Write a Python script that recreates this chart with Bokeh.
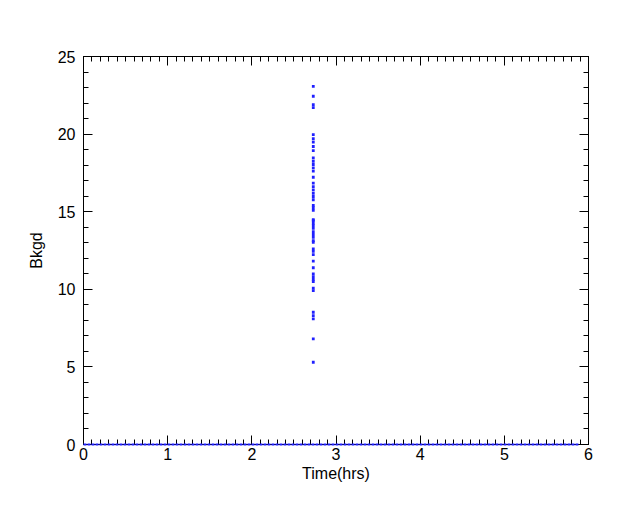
from bokeh.plotting import figure
from bokeh.models import LinearAxis, SingleIntervalTicker, Range1d, CustomJSTickFormatter
from bokeh.embed import file_html
from bokeh.resources import INLINE

# Data
spike_time = 2.73  # hours
spike_bkgd = [23.07, 22.44, 21.89, 21.7, 19.97, 19.7, 19.48, 19.2, 18.94,
              18.47, 18.25, 18.04, 17.83, 17.61, 17.22, 16.84, 16.62, 16.41,
              16.19, 15.98, 15.77, 15.4, 15.25, 15.08, 14.48, 14.43, 14.26,
              14.11, 13.92, 13.72, 13.53, 13.34, 13.14, 13.03, 12.61, 12.44,
              12.24, 11.81, 11.39, 11.0, 10.82, 10.63, 10.5, 10.07, 9.92,
              8.52, 8.31, 8.1, 6.81, 5.3]
zero_times = [0.0, 5.88]   # span of samples with Bkgd = 0
zero_bkgd = [0.0, 0.0]

x_range = (0, 6)
y_range = (0, 25)

FONT = "Liberation Sans"
BLUE = "#2020ff"

p = figure(width=624, height=496, output_backend="svg", toolbar_location=None,
           x_range=Range1d(*x_range), y_range=Range1d(*y_range),
           min_border_left=83, min_border_right=36, min_border_top=56,
           min_border_bottom=52, x_axis_label="Time(hrs)", y_axis_label="Bkgd")
p.xgrid.visible = False
p.ygrid.visible = False
p.outline_line_color = "black"
p.outline_line_width = 1
p.background_fill_color = "white"
p.border_fill_color = "white"

# baseline of zero-valued samples (densely packed points)
p.line(zero_times, zero_bkgd, line_color=BLUE, line_width=2, line_dash="3 1",
       level="overlay")
p.scatter([spike_time] * len(spike_bkgd), spike_bkgd, marker="square", size=2.8,
          fill_color=BLUE, line_color=None)

def style(ax, labels=True):
    ax.axis_line_color = "black"
    ax.major_tick_in = 9
    ax.major_tick_out = 0
    ax.minor_tick_in = 5
    ax.minor_tick_out = 0
    ax.major_tick_line_color = "black"
    ax.minor_tick_line_color = "black"
    ax.major_label_text_font = FONT
    ax.major_label_text_font_size = "16px"
    ax.major_label_text_color = "black"
    ax.axis_label_text_font = FONT
    ax.axis_label_text_font_size = "16px"
    ax.axis_label_text_font_style = "normal"
    ax.axis_label_text_color = "black"
    if not labels:
        ax.formatter = CustomJSTickFormatter(code="return ''")
        ax.major_label_standoff = 0

xt = SingleIntervalTicker(interval=1, num_minor_ticks=10)
yt = SingleIntervalTicker(interval=5, num_minor_ticks=5)

p.xaxis.ticker = xt
p.yaxis.ticker = yt
style(p.xaxis[0])
style(p.yaxis[0])
p.xaxis.major_label_standoff = 3
p.xaxis.axis_label_standoff = 2
p.yaxis.major_label_standoff = 8
p.yaxis.axis_label_standoff = 10

top = LinearAxis(ticker=SingleIntervalTicker(interval=1, num_minor_ticks=10))
right = LinearAxis(ticker=SingleIntervalTicker(interval=5, num_minor_ticks=5))
style(top, labels=False)
style(right, labels=False)
p.add_layout(top, "above")
p.add_layout(right, "right")

open("out.html", "w").write(file_html(p, INLINE))
